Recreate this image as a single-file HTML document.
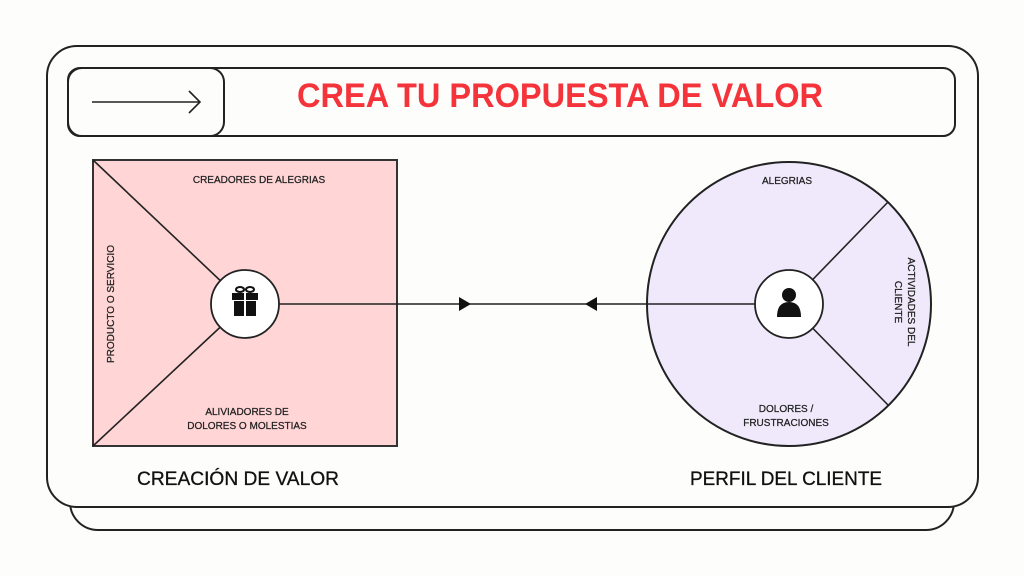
<!DOCTYPE html>
<html><head><meta charset="utf-8"><style>
html,body{margin:0;padding:0;background:#fdfdfc;}
svg{display:block;}
text{font-family:"Liberation Sans",sans-serif;}
</style></head><body>
<svg width="1024" height="576" viewBox="0 0 1024 576" xmlns="http://www.w3.org/2000/svg">
<rect width="1024" height="576" fill="#fdfdfc"/>
<rect x="70" y="470" width="884" height="60" rx="28" fill="#fdfdfc" stroke="#222" stroke-width="2"/>
<rect x="47" y="46" width="931" height="461" rx="30" fill="#fdfdfc" stroke="#222" stroke-width="2"/>
<rect x="68" y="68" width="887" height="68" rx="12" fill="#fdfdfc" stroke="#222" stroke-width="2"/>
<rect x="68" y="68" width="156" height="68" rx="14" fill="#fdfdfc" stroke="#222" stroke-width="2"/>
<line x1="92" y1="102" x2="200" y2="102" stroke="#222" stroke-width="1.6"/>
<polyline points="189,91 200,102 189,113" fill="none" stroke="#222" stroke-width="1.6"/>
<text x="297" y="107" font-size="34" font-weight="bold" fill="#f5333a" textLength="526" lengthAdjust="spacingAndGlyphs">CREA TU PROPUESTA DE VALOR</text>
<rect x="93" y="160" width="304" height="286" fill="#ffd5d6" stroke="#333" stroke-width="2"/>
<line x1="93" y1="160" x2="245" y2="304" stroke="#222" stroke-width="1.6"/>
<line x1="93" y1="446" x2="245" y2="304" stroke="#222" stroke-width="1.6"/>
<circle cx="789" cy="304" r="142" fill="#efe9fb" stroke="#222" stroke-width="2"/>
<line x1="789" y1="304" x2="888" y2="202" stroke="#222" stroke-width="1.6"/>
<line x1="789" y1="304" x2="888" y2="405" stroke="#222" stroke-width="1.6"/>
<line x1="245" y1="304" x2="789" y2="304" stroke="#222" stroke-width="1.6"/>
<polygon points="459,297 471,304 459,311" fill="#111"/>
<polygon points="597,297 585,304 597,311" fill="#111"/>
<circle cx="245" cy="304" r="34" fill="#fff" stroke="#222" stroke-width="1.8"/>
<circle cx="789" cy="304" r="34" fill="#fff" stroke="#222" stroke-width="1.8"/>
<g fill="#111">
<rect x="232" y="293" width="26" height="7"/>
<rect x="234" y="301" width="22" height="15"/>
<rect x="244" y="293" width="2" height="23" fill="#fff"/>
<ellipse cx="240" cy="289.5" rx="4" ry="2.5" fill="none" stroke="#111" stroke-width="2"/>
<ellipse cx="250" cy="289.5" rx="4" ry="2.5" fill="none" stroke="#111" stroke-width="2"/>
</g>
<circle cx="789" cy="295" r="7" fill="#111"/>
<path d="M777 317 Q777 302 789 302 Q801 302 801 317 Z" fill="#111"/>
<g font-size="10" fill="#222" stroke="#222" stroke-width="0.25">
<text x="259" y="183" text-anchor="middle">CREADORES DE ALEGRIAS</text>
<text x="247" y="415" text-anchor="middle">ALIVIADORES DE</text>
<text x="247" y="429" text-anchor="middle">DOLORES O MOLESTIAS</text>
<text transform="translate(114,304) rotate(-90)" text-anchor="middle">PRODUCTO O SERVICIO</text>
<text x="787" y="184" text-anchor="middle">ALEGRIAS</text>
<text x="786" y="412" text-anchor="middle">DOLORES /</text>
<text x="786" y="426" text-anchor="middle">FRUSTRACIONES</text>
<text transform="translate(908,302) rotate(90)" text-anchor="middle">ACTIVIDADES DEL</text>
<text transform="translate(895,302) rotate(90)" text-anchor="middle">CLIENTE</text>
</g>
<text x="137" y="485" font-size="19" fill="#111" stroke="#111" stroke-width="0.3" textLength="202" lengthAdjust="spacingAndGlyphs">CREACIÓN DE VALOR</text>
<text x="690" y="485" font-size="19" fill="#111" stroke="#111" stroke-width="0.3" textLength="192" lengthAdjust="spacingAndGlyphs">PERFIL DEL CLIENTE</text>
</svg>
</body></html>
